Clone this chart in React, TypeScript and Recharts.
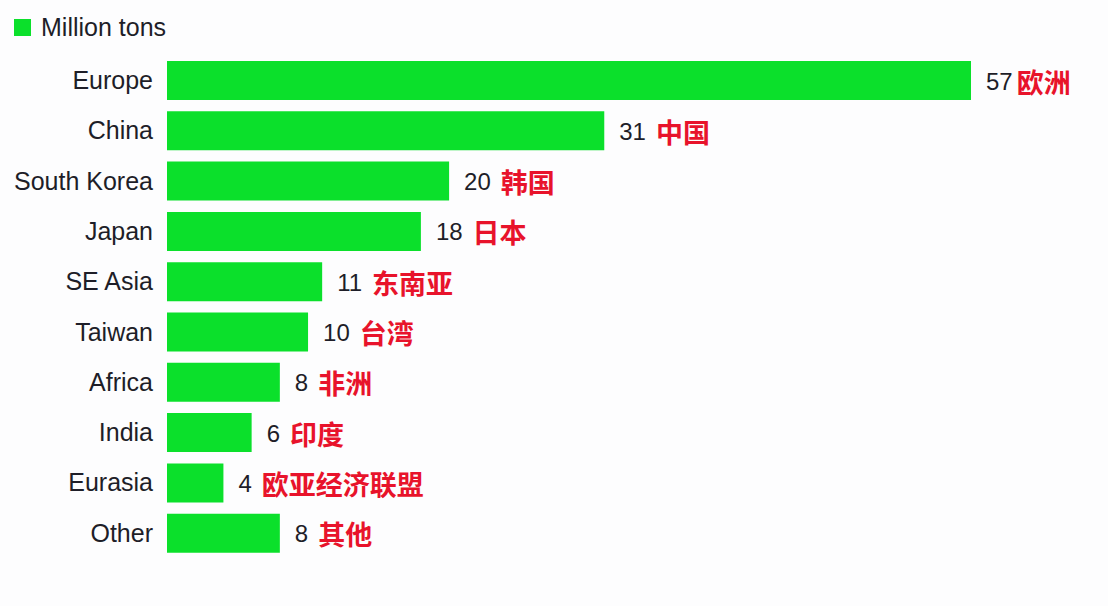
import React from "react";
import { BarChart, Bar, XAxis, YAxis, LabelList } from "recharts";

const categories = ["Europe", "China", "South Korea", "Japan", "SE Asia", "Taiwan", "Africa", "India", "Eurasia", "Other"];
const values = [57, 31, 20, 18, 11, 10, 8, 6, 4, 8];
const cnLabels = ["欧洲", "中国", "韩国", "日本", "东南亚", "台湾", "非洲", "印度", "欧亚经济联盟", "其他"];
const seriesName = "Million tons";

const data = categories.map((c, i) => ({ name: c, value: values[i], cn: cnLabels[i] }));

const GREEN = "#0be02b";
const RED = "#e8132b";
const TEXT = "#1e1e28";
const FONT = "'Liberation Sans', Arial, Helvetica, sans-serif";
const CJK = "'Noto Sans CJK SC', sans-serif";

const renderLabel = (props: any) => {
  const { x, y, width, height, value, index } = props;
  return (
    <text x={x + width + 15} y={y + height / 2} dominantBaseline="central" fontFamily={FONT} fontSize={24} fill={TEXT}>
      <tspan>{value}</tspan>
      <tspan dx={index === 0 ? 4 : 10} fill={RED} fontFamily={CJK} fontWeight="bold" fontSize={27}>
        {cnLabels[index]}
      </tspan>
    </text>
  );
};

export default function App() {
  return (
    <div style={{ position: "absolute", left: 0, top: 0, width: 1108, height: 606, background: "#fdfdfe" }}>
      <div
        style={{
          position: "absolute",
          left: 14,
          top: 13,
          display: "flex",
          alignItems: "center",
          fontFamily: FONT,
          fontSize: 25,
          color: TEXT,
          zIndex: 2,
        }}
      >
        <span style={{ display: "inline-block", width: 17, height: 17, background: GREEN, marginRight: 10 }} />
        <span>{seriesName}</span>
      </div>
      <BarChart
        width={1108}
        height={606}
        data={data}
        layout="vertical"
        margin={{ top: 55, right: 137, bottom: 48, left: 0 }}
      >
        <XAxis type="number" domain={[0, 57]} hide />
        <YAxis
          type="category"
          dataKey="name"
          width={167}
          axisLine={false}
          tickLine={false}
          tickMargin={8}
          tick={{ fontFamily: FONT, fontSize: 25, fill: TEXT }}
          interval={0}
        />
        <Bar dataKey="value" name={seriesName} fill={GREEN} barSize={39} isAnimationActive={false}>
          <LabelList dataKey="value" content={renderLabel} />
        </Bar>
      </BarChart>
    </div>
  );
}
